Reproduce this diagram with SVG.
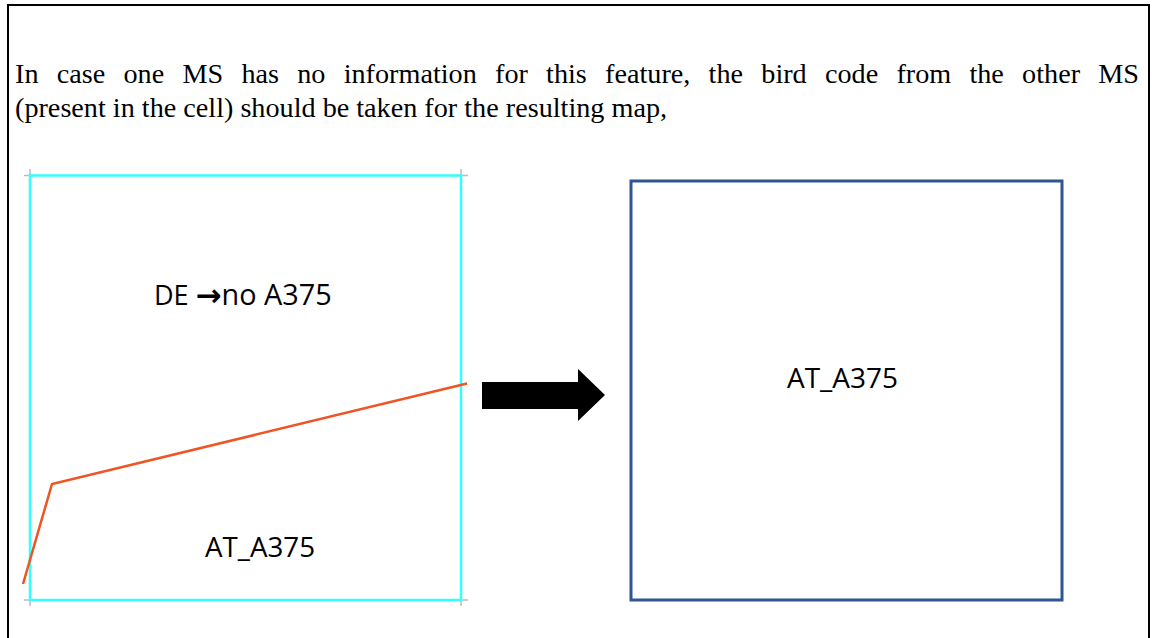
<svg xmlns="http://www.w3.org/2000/svg" width="1152" height="638" viewBox="0 0 1152 638">
<style>
.hdr{font-family:"Liberation Serif","Times New Roman",serif;font-size:28.2px;fill:#000}
.lbl{font-family:"Open Sans","Liberation Sans",sans-serif;font-size:27px;fill:#000}
.big{font-size:28.8px}
.arr{font-family:"DejaVu Sans",sans-serif;font-weight:bold;font-size:31px}
.tick{stroke:#bbb;stroke-width:1.5}
</style>
<rect width="1152" height="638" fill="#fff"/>
<g id="frame" fill="none" stroke="#000" stroke-width="2">
<polyline points="8,638 8,5 1149,5 1149,638"/>
</g>
<g id="caption">
<text class="hdr" x="15" y="83" word-spacing="11.2">In case one MS has no information for this feature, the bird code from the other MS</text>
<text class="hdr" x="15" y="117">(present in the cell) should be taken for the resulting map,</text>
</g>
<g id="left-cell">
<path class="tick" d="M24,175.5 H36 M30,169 V182 M455,175.5 H468 M461,169 V182 M24,600 H36 M30,594 V606 M455,600 H468 M461,594 V606"/>
<rect x="30" y="175.5" width="431" height="424.5" fill="none" stroke="#33ffff" stroke-width="2.5"/>
<polyline points="23,584 52,484 467,383.5" fill="none" stroke="#ee5522" stroke-width="2.5"/>
<text class="lbl" x="154" y="305">DE <tspan class="arr" dy="1">→</tspan><tspan class="big" dy="-1">no A375</tspan></text>
<text class="lbl" x="205" y="557" textLength="110" lengthAdjust="spacingAndGlyphs">AT_A375</text>
</g>
<g id="connectors">
<polygon points="482,382 578,382 578,369 605,395 578,421 578,409 482,409" fill="#000"/>
</g>
<g id="right-cell">
<rect x="631" y="181" width="431" height="419" fill="none" stroke="#2f5592" stroke-width="3"/>
<text class="lbl" x="787" y="388" textLength="111" lengthAdjust="spacingAndGlyphs">AT_A375</text>
</g>
</svg>
